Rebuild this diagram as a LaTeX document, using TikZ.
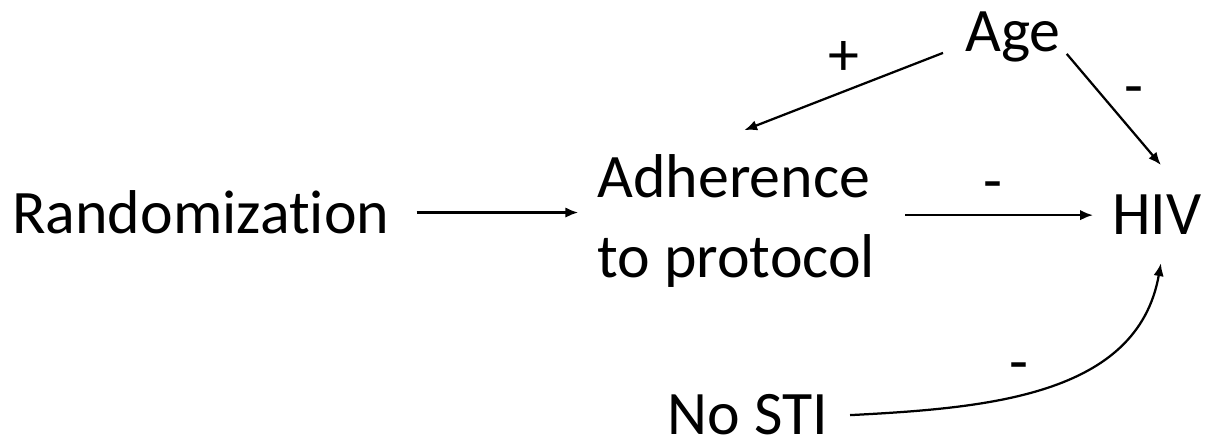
\documentclass[tikz,border=0pt]{standalone}
\usepackage{fontspec}
\setmainfont{Carlito}[Ligatures=NoCommon]
\usetikzlibrary{arrows.meta,positioning,calc}
\tikzset{
  >={Latex[length=3.2mm,width=2.6mm]},
  var/.style={inner sep=0pt,font=\fontsize{44}{57}\selectfont},
  sign/.style={inner sep=0pt,font=\fontsize{44}{57}\selectfont},
  causal/.style={->,line width=1.6pt},
}

\begin{document}
\begin{tikzpicture}
\useasboundingbox (0,0) rectangle (30.425,11.125);

% ===== Variables =====
\node[var, anchor=base west] (rand) at (0.3,5.28) {Randomization};
\node[var, anchor=west, align=left] (adh) at (14.93,5.6) {Adherence\\to protocol};
\node[var, anchor=base west] (hiv) at (27.8,5.25) {HIV};
\node[var, anchor=base west] (age) at (24.125,9.825) {Age};
\node[var, anchor=base west] (nosti) at (16.68,0.25) {No STI};

% ===== Effects =====
\draw[causal, shorten <=6.75mm, shorten >=4.75mm] (rand.east) -- (rand.east -| adh.west);
\draw[causal, shorten <=7.5mm, shorten >=4.75mm] (adh.east |- hiv.west) -- (hiv.west);
\draw[causal] ($(age.south west)+(-5.5mm,2.5mm)$) -- ($(adh.north)+(2mm,6mm)$);
\draw[causal] ($(age.south east)+(1.5mm,2.25mm)$) -- ($(hiv.north)+(1mm,7.5mm)$);
\draw[causal] ($(nosti.east)+(5.5mm,0)$) to[out=3,in=-100] ($(hiv.south)+(1mm,-7mm)$);

% ===== Signs =====
\node[sign] (signAgeAdh) at (21.1,9.65) {+};
\node[sign] (signAgeHiv) at (28.35,8.7) {-};
\node[sign] (signAdhHiv) at (24.83,6.33) {-};
\node[sign] (signStiHiv) at (25.48,1.8) {-};

\end{tikzpicture}
\end{document}
